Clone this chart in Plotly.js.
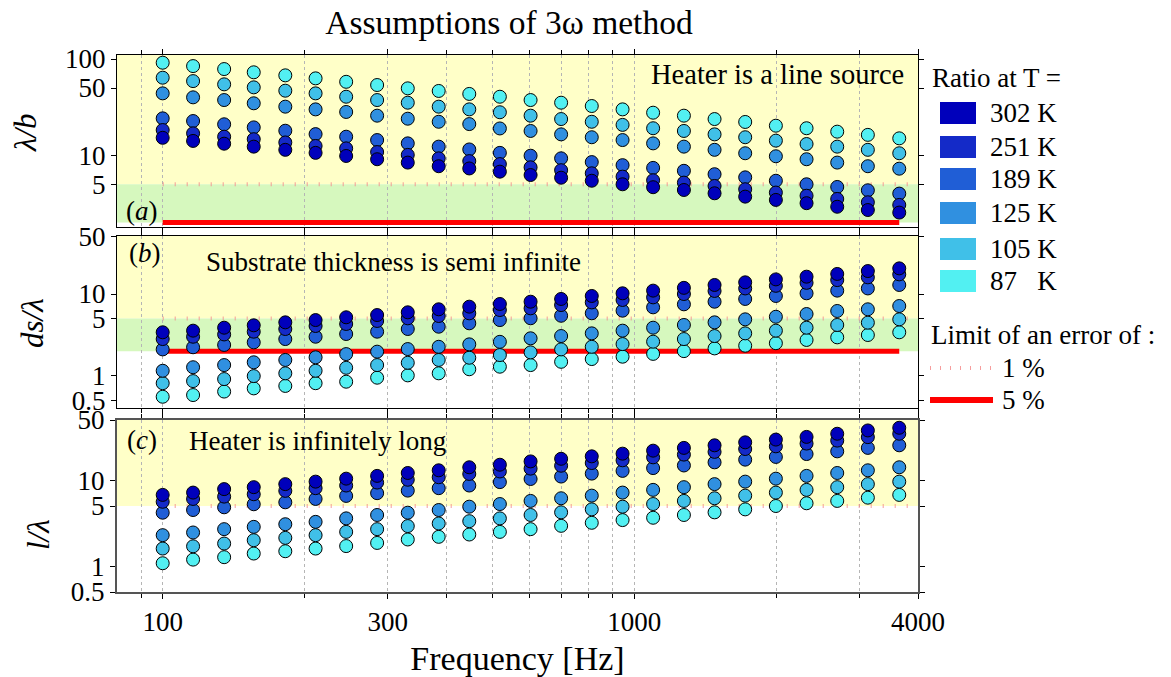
<!DOCTYPE html>
<html><head><meta charset="utf-8">
<script src="https://cdn.plot.ly/plotly-3.0.1.min.js"></script>
<style>html,body{margin:0;padding:0;background:#fff}#chart{width:1171px;height:677px}</style>
</head><body><div id="chart"></div>
<script>
// ---------- data ----------
const freq = [100,116,135,156,182,211,245,285,331,385,447,519,603,700,813,945,1097,1275,1481,1720,1998,2321,2696,3131,3650];
const temps = ['302 K','251 K','189 K','125 K','105 K','87 K'];
const legendLabels = ['302 K','251 K','189 K','125 K','105 K','87\u00A0\u00A0\u00A0K'];

// (a) lambda / b
const lb302 = [15.2,14.1,13.2,12.3,11.4,10.6,9.84,9.1,8.4,7.7,7.3,6.76,6.24,5.85,5.44,5.0,4.66,4.36,4.03,3.72,3.44,3.18,2.92,2.7,2.54];
const lb251 = [18.3,16.9,15.6,14.7,13.6,12.5,11.8,10.8,10.1,9.3,8.7,8.1,7.5,7.0,6.5,6.0,5.5,5.2,4.8,4.44,4.1,3.8,3.52,3.25,3.05];
const lb189 = [24.2,22.7,21,19.5,18,16.6,15.6,14.4,13.3,12.3,11.5,10.6,9.9,9.3,8.5,7.9,7.4,6.9,6.36,5.9,5.44,5.0,4.69,4.33,4.0];
const lb125 = [44,40,37.5,34.7,32,30,28.2,25.8,24,22.3,21.1,19,17.9,16.5,15.4,14.4,13.3,12.3,11.4,10.5,9.77,9.1,8.4,7.7,7.26];
const lb105 = [64,59,54.6,50.8,46.9,44,40.6,37.5,35.2,32,30,28,25.8,23.8,22.3,20.7,19.1,17.9,16.5,15.4,14.2,13.1,12.3,11.4,10.5];
const lb87  = [91.6,84.5,78.7,72.8,67.7,63,58,53.7,49.6,46.6,43.4,40.6,37.5,35.2,32.5,30,27.7,25.8,23.8,22.2,20.3,19.1,17.6,16.3,15];

// (b) ds / lambda
const ds302 = [3.4,3.56,3.87,4.14,4.5,4.8,5.19,5.53,5.97,6.5,7.0,7.55,8.05,8.7,9.46,10.2,11,11.9,12.9,13.9,15.1,16.3,17.6,19.1,20.6];
const ds251 = [2.81,3.0,3.2,3.46,3.73,4.06,4.3,4.68,5.04,5.38,5.8,6.37,6.68,7.33,7.9,8.45,9.1,10,10.9,11.7,12.6,13.7,14.8,16,17.4];
const ds189 = [2.1,2.23,2.38,2.56,2.81,3.0,3.24,3.46,3.73,3.98,4.38,4.8,5.05,5.42,5.81,6.25,6.87,7.48,8.05,8.7,9.46,10.2,11,11.7,12.9];
const ds125 = [1.15,1.27,1.35,1.46,1.56,1.68,1.84,1.97,2.12,2.26,2.42,2.6,2.87,3.06,3.3,3.56,3.87,4.18,4.5,4.9,5.27,5.69,6.2,6.5,7.13];
const ds105 = [0.81,0.86,0.91,0.99,1.07,1.15,1.25,1.35,1.44,1.56,1.66,1.79,1.93,2.1,2.26,2.44,2.61,2.81,3.06,3.3,3.56,3.87,4.18,4.46,4.9];
const ds87  = [0.553,0.58,0.64,0.70,0.75,0.81,0.845,0.946,1.01,1.07,1.2,1.29,1.35,1.48,1.6,1.71,1.85,2.0,2.16,2.33,2.5,2.74,2.95,3.15,3.4];

// (c) l / lambda
const l302 = [6.73,7.16,7.86,8.28,8.98,9.6,10.4,11.2,12.1,13,14.1,15.1,16.5,17.7,18.9,20.3,22,23.7,25.4,27.5,29.6,31.8,34.6,37.8,40.6];
const l251 = [5.6,6.04,6.43,6.85,7.5,8.06,8.65,9.37,10.1,10.8,11.8,12.6,13.6,14.7,15.8,17,18.4,19.8,21.3,23,24.7,26.6,28.8,31.6,34.6];
const l189 = [4.18,4.49,4.83,5.24,5.52,6.04,6.55,7.05,7.55,8.06,8.65,9.48,10.3,11,11.9,12.8,13.8,14.8,16.1,17.3,18.6,20.1,21.6,23.7,25.4];
const l125 = [2.29,2.46,2.69,2.86,3.07,3.27,3.59,3.93,4.18,4.49,4.91,5.27,5.73,6.15,6.6,7.16,7.7,8.28,8.98,9.6,10.4,11.2,12.1,13,14.1];
const l105 = [1.6,1.7,1.83,2.0,2.13,2.29,2.5,2.69,2.92,3.13,3.33,3.59,3.93,4.22,4.57,4.91,5.27,5.73,6.15,6.6,7.16,7.7,8.28,8.98,9.6];
const l87  = [1.08,1.19,1.27,1.4,1.49,1.6,1.71,1.86,2.04,2.19,2.33,2.5,2.69,2.94,3.19,3.43,3.65,3.93,4.22,4.57,5.0,5.38,5.73,6.25,6.73];

const limit1 = 5;   // 1 % error limit
const limit5 = 2;   // 5 % error limit

const xMajorTicks = [100,300,1000,4000];
const xMajorText = ['100','300','1000','4000'];
const xMinorTicks = [90,200,400,500,600,700,800,900,2000,3000];
const yTickA = [5,10,50,100];
const yTickBC = [0.5,1,5,10,50];
const yTitles = ['<i>\u03BB/b</i>', '<i>ds/\u03BB</i>', '<i>l/\u03BB</i>'];

// ---------- styling ----------
const FONT = 'Liberation Serif';
const colors = ['#0000bb','#142ac8','#205ed6','#3090e0','#40c0e8','#52f0f2'];
const panels = [
  {series:[lb302,lb251,lb189,lb125,lb105,lb87], xa:'x',  ya:'y',  red:true},
  {series:[ds302,ds251,ds189,ds125,ds105,ds87], xa:'x2', ya:'y2', red:true},
  {series:[l302,l251,l189,l125,l105,l87],       xa:'x3', ya:'y3', red:false}
];

const traces = [];
panels.forEach(p => {
  traces.push({x:[freq[0], 4000], y:[limit1, limit1], xaxis:p.xa, yaxis:p.ya, mode:'lines',
    line:{color:'rgba(245,140,140,0.85)', width:4, dash:'1px,11px'}, showlegend:false, hoverinfo:'skip'});
  if (p.red) traces.push({x:[freq[0], freq[freq.length-1]], y:[limit5, limit5], xaxis:p.xa, yaxis:p.ya,
    mode:'lines', line:{color:'#ff0000', width:5}, showlegend:false, hoverinfo:'skip'});
  for (let i = temps.length-1; i >= 0; i--) {
    traces.push({x:freq, y:p.series[i], xaxis:p.xa, yaxis:p.ya, mode:'markers', name:temps[i],
      marker:{size:13, color:colors[i], line:{color:'#000', width:1}}, showlegend:false});
  }
});

const PL=117, PR=918, PT=55, PB=592;
const px = X => (X-PL)/(PR-PL);
const py = Y => (PB-Y)/(PB-PT);

const xBase = {type:'log', range:[Math.log10(80), Math.log10(4000)], tickmode:'array',
  tickvals:xMajorTicks, ticktext:xMajorText, tickangle:0,
  ticks:'outside', ticklen:5, tickcolor:'#000', showline:true, linecolor:'#000', linewidth:1, mirror:'ticks',
  showgrid:true, gridcolor:'#b5b5b5', griddash:'dot', gridwidth:1, zeroline:false,
  minor:{tickmode:'array', tickvals:xMinorTicks, ticks:'outside', ticklen:4, tickcolor:'#000',
    showgrid:true, gridcolor:'#b5b5b5', griddash:'dot', gridwidth:1},
  tickfont:{family:FONT, size:27, color:'#000'}};
const yBase = {type:'log', ticks:'outside', ticklen:5, tickcolor:'#000', showline:true, linecolor:'#000',
  linewidth:1, mirror:'ticks', showgrid:false, zeroline:false, tickfont:{family:FONT, size:27, color:'#000'}};

const shapes = [
  {type:'rect', xref:'x domain', yref:'y', x0:0, x1:1, y0:limit1, y1:Math.pow(10,2.042), fillcolor:'#ffffc8', line:{width:0}, layer:'below'},
  {type:'rect', xref:'x domain', yref:'y', x0:0, x1:1, y0:limit5, y1:limit1, fillcolor:'#d6f8be', line:{width:0}, layer:'below'},
  {type:'rect', xref:'x2 domain', yref:'y2', x0:0, x1:1, y0:limit1, y1:Math.pow(10,1.71), fillcolor:'#ffffc8', line:{width:0}, layer:'below'},
  {type:'rect', xref:'x2 domain', yref:'y2', x0:0, x1:1, y0:limit5, y1:limit1, fillcolor:'#d6f8be', line:{width:0}, layer:'below'},
  {type:'rect', xref:'x3 domain', yref:'y3', x0:0, x1:1, y0:limit1, y1:50, fillcolor:'#ffffc8', line:{width:0}, layer:'below'}
];
const legendRows = [113,147,179,213,249,281];
legendRows.forEach((c,i) => {
  shapes.push({type:'rect', xref:'paper', yref:'paper', x0:px(940), x1:px(976), y0:py(c+11), y1:py(c-11),
    fillcolor:colors[i], line:{width:0}});
});
shapes.push({type:'line', xref:'paper', yref:'paper', x0:px(930), x1:px(993), y0:py(368), y1:py(368),
  line:{color:'rgba(245,140,140,0.85)', width:4, dash:'1px,9px'}});
shapes.push({type:'line', xref:'paper', yref:'paper', x0:px(930), x1:px(993), y0:py(400), y1:py(400),
  line:{color:'#ff0000', width:6}});

const ann = (txt, X, Y, xa, sz) => ({text:txt, xref:'paper', yref:'paper', x:px(X), y:py(Y), xanchor:xa||'left',
  yanchor:'middle', showarrow:false, font:{family:FONT, size:sz||27, color:'#000'}});
const yTitle = (txt, X, Y) => ({text:txt, xref:'paper', yref:'paper', x:px(X), y:py(Y), xanchor:'center',
  yanchor:'middle', textangle:-90, showarrow:false, font:{family:FONT, size:31, color:'#000'}});
const annotations = [
  ann('Heater is a line source', 906, 75, 'right', 28.5),
  ann('(<i>a</i>)', 124, 211),
  ann('(<i>b</i>)', 127, 253),
  ann('Substrate thickness is semi infinite', 204, 262),
  ann('(<i>c</i>)', 125, 440),
  ann('Heater is infinitely long', 187, 441),
  ann('Ratio at T =', 930, 78),
  ann('Limit of an error of :', 929, 335),
  ann('1 %', 1000, 368),
  ann('5 %', 1000, 400),
  yTitle(yTitles[0], 26, 133),
  yTitle(yTitles[1], 32, 323),
  yTitle(yTitles[2], 38, 535)
];
legendRows.forEach((c,i) => annotations.push(ann(legendLabels[i], 988, c)));

const layout = {
  width:1171, height:677, autosize:false,
  margin:{l:PL, r:1171-PR, t:PT, b:677-PB},
  paper_bgcolor:'#fff', plot_bgcolor:'rgba(0,0,0,0)',
  showlegend:false,
  font:{family:FONT, color:'#000'},
  title:{text:'Assumptions of 3\u03C9 method', font:{family:FONT, size:33.5, color:'#000'},
    x:509/1171, xanchor:'center', y:1-22/677, yanchor:'middle'},
  xaxis:Object.assign({}, xBase, {anchor:'y', showticklabels:false}),
  xaxis2:Object.assign({}, xBase, {anchor:'y2', matches:'x', showticklabels:false}),
  xaxis3:Object.assign({}, xBase, {anchor:'y3', matches:'x', linecolor:'#555', linewidth:2,
    title:{text:'Frequency [Hz]', font:{family:FONT, size:34, color:'#000'}, standoff:22}}),
  yaxis:Object.assign({}, yBase, {domain:[py(227), 1], range:[0.255, 2.042], tickvals:yTickA}),
  yaxis2:Object.assign({}, yBase, {domain:[py(408), py(236)], range:[-0.395, 1.71], tickvals:yTickBC}),
  yaxis3:Object.assign({}, yBase, {domain:[0, py(420)], range:[Math.log10(0.5), Math.log10(50)], tickvals:yTickBC,
    linecolor:'#555', linewidth:2}),
  shapes:shapes,
  annotations:annotations
};

Plotly.newPlot('chart', traces, layout, {displayModeBar:false, staticPlot:true});
</script>
</body></html>
